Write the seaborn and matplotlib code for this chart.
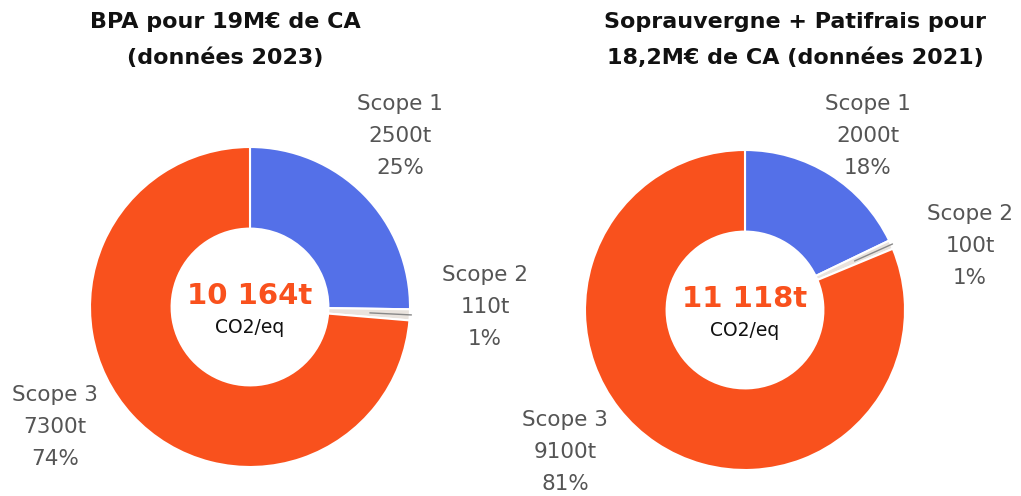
import numpy as np
import matplotlib
matplotlib.use("Agg")
import matplotlib.pyplot as plt
import seaborn as sns

# ---- data ----
scopes = ["Scope 1", "Scope 2", "Scope 3"]
bpa_values = [2500, 110, 7300]
bpa_pct = ["25%", "1%", "74%"]
bpa_total = "10 164t"
sop_values = [2000, 100, 9100]
sop_pct = ["18%", "1%", "81%"]
sop_total = "11 118t"
titles = ["BPA pour 19M€ de CA\n(données 2023)",
          "Soprauvergne + Patifrais pour\n18,2M€ de CA (données 2021)"]
unit = "CO2/eq"

sns.set_theme(style="white")
plt.rcParams['font.family'] = ['DejaVu Sans']
colors = ["#5470e8", "#e9e3dd", "#f9511d"]

W, H = 1021, 496
fig = plt.figure(figsize=(W / 100, H / 100), dpi=100)

R = 160

def draw(cx, cy, values, pcts, total, title, title_x, label_pos):
    ax = fig.add_axes([(cx - R) / W, (H - cy - R) / H, 2 * R / W, 2 * R / H])
    wedges, _ = ax.pie(values, colors=colors, startangle=90, counterclock=False,
                       radius=1.0, wedgeprops=dict(width=0.51, edgecolor="white", linewidth=1.5))
    ax.set_xlim(-1, 1)
    ax.set_ylim(-1, 1)
    ax.set_aspect("equal")
    ax.axis("off")
    # leader line inside scope 2 slice
    tot = sum(values)
    mid = values[0] + values[1] / 2
    ang = np.deg2rad(90 - 360 * mid / tot)
    ax.plot([0.75 * np.cos(ang), 1.01 * np.cos(ang)], [0.75 * np.sin(ang), 1.01 * np.sin(ang)],
            color="#888888", lw=1, clip_on=False)
    ax.text(0, 0.07, total, ha="center", va="center", fontsize=21, fontweight="bold", color="#f9511d")
    ax.text(0, -0.13, unit, ha="center", va="center", fontsize=13.5, color="#111111")
    for name, v, p, (lx, ly) in zip(scopes, values, pcts, label_pos):
        fig.text(lx / W, 1 - ly / H, f"{name}\n{v}t\n{p}", ha="center", va="center",
                 fontsize=15.5, color="#555555", linespacing=1.75)
    fig.text(title_x / W, 1 - 40 / H, title, ha="center", va="center", fontsize=16,
             fontweight="bold", color="#111111", linespacing=1.95)

draw(250, 307, bpa_values, bpa_pct, bpa_total, titles[0], 225,
     [(400, 136), (485, 307), (55, 427)])
draw(745, 310, sop_values, sop_pct, sop_total, titles[1], 795,
     [(868, 136), (970, 246), (565, 452)])

fig.savefig("out.png", dpi=100)
